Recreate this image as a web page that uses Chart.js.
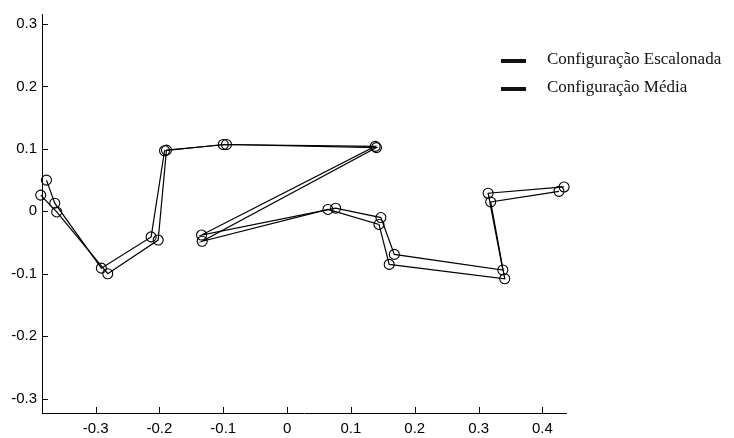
<!DOCTYPE html>
<html>
<head>
<meta charset="utf-8">
<script src="https://cdn.jsdelivr.net/npm/chart.js@4.4.0/dist/chart.umd.min.js"></script>
<style>body{margin:0;background:#fff}</style>
</head>
<body>
<canvas id="grafico" width="734" height="438"></canvas>
<script>
// Coordenadas
const escalonadaX = [-0.377, -0.364, -0.291, -0.213, -0.192, -0.100, 0.138, -0.134, 0.076, 0.147, 0.168, 0.338, 0.315, 0.434];
const escalonadaY = [0.050, 0.013, -0.091, -0.041, 0.097, 0.107, 0.104, -0.038, 0.005, -0.010, -0.069, -0.094, 0.029, 0.039];
const mediaX = [-0.386, -0.361, -0.281, -0.202, -0.189, -0.095, 0.140, -0.133, 0.064, 0.144, 0.160, 0.341, 0.319, 0.426];
const mediaY = [0.026, -0.001, -0.100, -0.046, 0.098, 0.107, 0.102, -0.048, 0.003, -0.021, -0.085, -0.108, 0.015, 0.032];
const xTicks = [-0.3, -0.2, -0.1, 0, 0.1, 0.2, 0.3, 0.4];
const yTicks = [-0.3, -0.2, -0.1, 0, 0.1, 0.2, 0.3];
const seriesLabels = ['Configuração Escalonada', 'Configuração Média'];

const toPoints = (xs, ys) => xs.map((v, i) => ({ x: v, y: ys[i] }));
const fmt = v => Number(v.toFixed(1)).toString();

// ticks para dentro + legenda dentro da área do gráfico
const extras = {
    id: 'extras',
    afterDraw(chart) {
        const { ctx, chartArea, scales: { x, y } } = chart;
        ctx.save();
        ctx.strokeStyle = '#000';
        ctx.lineWidth = 1;
        ctx.beginPath();
        xTicks.forEach(v => {
            const px = Math.round(x.getPixelForValue(v)) + 0.5;
            ctx.moveTo(px, chartArea.bottom);
            ctx.lineTo(px, chartArea.bottom - 6);
        });
        yTicks.forEach(v => {
            const py = Math.round(y.getPixelForValue(v)) + 0.5;
            ctx.moveTo(chartArea.left, py);
            ctx.lineTo(chartArea.left + 6, py);
        });
        ctx.stroke();

        ctx.fillStyle = '#111';
        ctx.font = '17px "Liberation Serif", "Times New Roman", serif';
        ctx.textBaseline = 'alphabetic';
        seriesLabels.forEach((label, i) => {
            const base = 64 + i * 28;
            ctx.fillRect(501, base - 5, 25, 4);
            ctx.fillText(label, 547, base);
        });
        ctx.restore();
    }
};

const commonSet = {
    showLine: true,
    borderColor: '#000',
    borderWidth: 1.2,
    backgroundColor: 'rgba(0,0,0,0)',
    pointBorderColor: '#000',
    pointBackgroundColor: 'rgba(0,0,0,0)',
    pointRadius: 5,
    pointBorderWidth: 1.1,
    pointStyle: 'circle',
    clip: false
};

const axisFont = { family: '"Liberation Sans", Arial, sans-serif', size: 15 };

new Chart(document.getElementById('grafico'), {
    type: 'scatter',
    data: {
        datasets: [
            { ...commonSet, label: seriesLabels[0], data: toPoints(escalonadaX, escalonadaY) },
            { ...commonSet, label: seriesLabels[1], data: toPoints(mediaX, mediaY) }
        ]
    },
    options: {
        responsive: false,
        animation: false,
        layout: { padding: { top: 5, right: 168, left: 0, bottom: 0 } },
        plugins: { legend: { display: false }, tooltip: { enabled: false } },
        scales: {
            x: {
                type: 'linear',
                min: -0.384,
                max: 0.437,
                afterBuildTicks: s => { s.ticks = xTicks.map(v => ({ value: v })); },
                afterFit: s => { s.height = 25; },
                grid: { display: false, drawTicks: false },
                border: { display: true, color: '#000', width: 1 },
                ticks: { color: '#000', font: axisFont, padding: 7, maxRotation: 0, callback: fmt }
            },
            y: {
                type: 'linear',
                min: -0.323,
                max: 0.316,
                afterBuildTicks: s => { s.ticks = yTicks.map(v => ({ value: v })); },
                afterFit: s => { s.width = 42; },
                grid: { display: false, drawTicks: false },
                border: { display: true, color: '#000', width: 1 },
                ticks: { color: '#000', font: axisFont, padding: 5, callback: fmt }
            }
        }
    },
    plugins: [extras]
});
</script>
</body>
</html>
